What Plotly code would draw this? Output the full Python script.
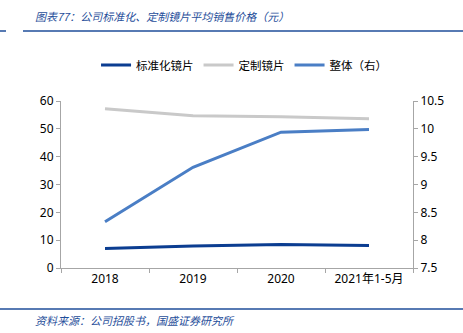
import plotly.graph_objects as go

categories = ["2018", "2019", "2020", "2021年1-5月"]
standard_lens = [7.0, 7.9, 8.4, 8.1]
custom_lens = [57.2, 54.7, 54.3, 53.6]
overall_right = [8.33, 9.31, 9.94, 9.99]

title_text = "图表77：公司标准化、定制镜片平均销售价格（元）"
source_text = "资料来源：公司招股书，国盛证券研究所"

W, H = 463, 333
fig = go.Figure()
fig.add_trace(go.Scatter(x=categories, y=standard_lens, name="标准化镜片", mode="lines",
                         line=dict(color="#0B3D91", width=3)))
fig.add_trace(go.Scatter(x=categories, y=custom_lens, name="定制镜片", mode="lines",
                         line=dict(color="#C9C9C9", width=3)))
fig.add_trace(go.Scatter(x=categories, y=overall_right, name="整体（右）", mode="lines",
                         line=dict(color="#4A7EC5", width=3), yaxis="y2"))

axis_font = dict(family="Noto Sans, DejaVu Sans", size=12, color="#000000")
fig.update_layout(
    width=W, height=H,
    margin=dict(l=61, r=50, t=101, b=65),
    paper_bgcolor="white", plot_bgcolor="white",
    font=dict(family="Noto Sans CJK SC", size=12, color="#000"),
    showlegend=True,
    legend=dict(orientation="h", x=0.52, xanchor="center", y=1 - 65/333, yanchor="middle",
                yref="container", font=dict(family="Noto Sans CJK SC", size=11.5),
                itemwidth=30, tracegroupgap=0),
    xaxis=dict(type="category", showline=True, linecolor="#A6A6A6", linewidth=1,
               ticks="outside", tickson="boundaries", ticklen=4, tickcolor="#A6A6A6",
               tickfont=dict(family="Noto Sans, Noto Sans CJK SC", size=12, color="#000"),
               showgrid=False, zeroline=False, range=[-0.5, 3.5]),
    yaxis=dict(range=[0, 60], dtick=10, showline=True, linecolor="#A6A6A6", linewidth=1,
               ticks="outside", ticklen=4, tickcolor="#A6A6A6", tickfont=axis_font,
               showgrid=False, zeroline=False),
    yaxis2=dict(range=[7.5, 10.5], dtick=0.5, overlaying="y", side="right",
                showline=True, linecolor="#A6A6A6", linewidth=1,
                ticks="outside", ticklen=4, tickcolor="#A6A6A6", tickfont=axis_font,
                showgrid=False, zeroline=False),
)

# title and separator lines
fig.add_annotation(text="<i>" + title_text + "</i>", xref="paper", yref="paper",
                   x=(33-61)/352, y=1+(101-16)/167,
                   xanchor="left", yanchor="middle", showarrow=False,
                   font=dict(family="Noto Sans CJK SC", size=11, color="#1F4E9A"))
fig.add_shape(type="line", xref="paper", yref="paper", x0=(23-61)/352, x1=(463-61)/352,
              y0=1+(101-31)/167, y1=1+(101-31)/167, line=dict(color="#1F4E9A", width=1.5))
fig.add_shape(type="line", xref="paper", yref="paper", x0=(0-61)/352, x1=(6-61)/352,
              y0=1+(101-31)/167, y1=1+(101-31)/167, line=dict(color="#1F4E9A", width=1.5))
fig.add_shape(type="line", xref="paper", yref="paper", x0=(0-61)/352, x1=(463-61)/352,
              y0=-(309-268)/167, y1=-(309-268)/167, line=dict(color="#1F4E9A", width=1.5))
fig.add_annotation(text="<i>" + source_text + "</i>", xref="paper", yref="paper",
                   x=(33-61)/352, y=-(320-268)/167,
                   xanchor="left", yanchor="middle", showarrow=False,
                   font=dict(family="Noto Sans CJK SC", size=11, color="#1F4E9A"))

fig.write_html("out.html")
